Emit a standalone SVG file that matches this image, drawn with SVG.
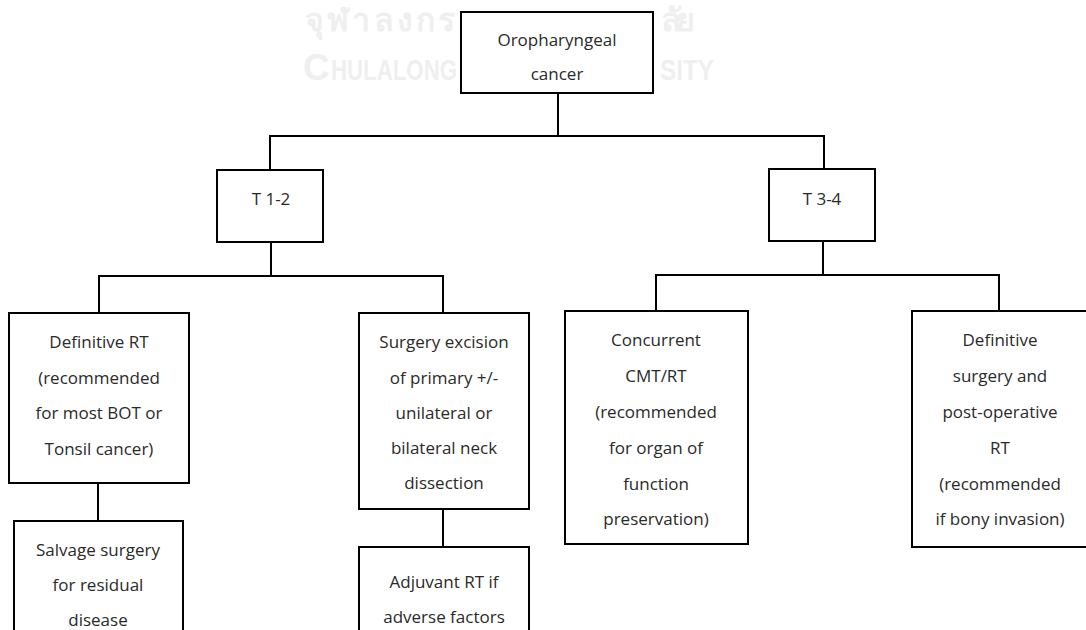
<svg xmlns="http://www.w3.org/2000/svg" width="1086" height="630" viewBox="0 0 1086 630">
<style>
.box{fill:#fff;stroke:#000;stroke-width:2}
.lbl{font-family:"Open Sans","Noto Sans","Liberation Sans",sans-serif;font-size:17px;fill:#2a2a2a;text-anchor:middle}
.wm{font-family:"Liberation Sans","DejaVu Sans",sans-serif;font-weight:bold;fill:#efefef}
.con{fill:none;stroke:#000;stroke-width:2}
</style>
<rect width="1086" height="630" fill="#fff"/>
<g id="watermark">
<text class="wm" x="305" y="31" font-size="32" textLength="150" lengthAdjust="spacing">จุฬาลงกร</text>
<text class="wm" x="656" y="31" font-size="32" textLength="34" lengthAdjust="spacing">ลัย</text>
<text class="wm" x="303" y="80" font-size="37">C</text>
<text class="wm" x="331" y="80" font-size="29" textLength="126" lengthAdjust="spacingAndGlyphs">HULALONG</text>
<text class="wm" x="660" y="80" font-size="29" textLength="54" lengthAdjust="spacingAndGlyphs">SITY</text>
</g>
<g id="connectors">
<path class="con" d="M558 93V136M270 170V136H824V169"/>
<path class="con" d="M271 242V276M99 313V276H443V313"/>
<path class="con" d="M823 241V275M656 311V275H999V311"/>
<path class="con" d="M98 483V521"/>
<path class="con" d="M443 509V547"/>
</g>
<g id="n-root">
<rect class="box" x="461" y="12" width="192" height="81"/>
<text class="lbl" x="557" y="46">Oropharyngeal</text>
<text class="lbl" x="557" y="80">cancer</text>
</g>
<g id="n-t12">
<rect class="box" x="217" y="170" width="106" height="72"/>
<text class="lbl" x="271" y="205">T 1-2</text>
</g>
<g id="n-t34">
<rect class="box" x="769" y="169" width="106" height="72"/>
<text class="lbl" x="822" y="205">T 3-4</text>
</g>
<g id="n-defrt">
<rect class="box" x="9" y="313" width="180" height="170"/>
<text class="lbl" x="99" y="348">Definitive RT</text>
<text class="lbl" x="99" y="384">(recommended</text>
<text class="lbl" x="99" y="419">for most BOT or</text>
<text class="lbl" x="99" y="455">Tonsil cancer)</text>
</g>
<g id="n-salvage">
<rect class="box" x="14" y="521" width="169" height="130"/>
<text class="lbl" x="98" y="556">Salvage surgery</text>
<text class="lbl" x="98" y="591">for residual</text>
<text class="lbl" x="98" y="626">disease</text>
</g>
<g id="n-surgery">
<rect class="box" x="359" y="313" width="170" height="196"/>
<text class="lbl" x="444" y="348">Surgery excision</text>
<text class="lbl" x="444" y="384">of primary +/-</text>
<text class="lbl" x="444" y="419">unilateral or</text>
<text class="lbl" x="444" y="454">bilateral neck</text>
<text class="lbl" x="444" y="489">dissection</text>
</g>
<g id="n-adjuvant">
<rect class="box" x="359" y="547" width="170" height="100"/>
<text class="lbl" x="444" y="588">Adjuvant RT if</text>
<text class="lbl" x="444" y="623">adverse factors</text>
</g>
<g id="n-ccrt">
<rect class="box" x="565" y="311" width="183" height="233"/>
<text class="lbl" x="656" y="346">Concurrent</text>
<text class="lbl" x="656" y="382">CMT/RT</text>
<text class="lbl" x="656" y="418">(recommended</text>
<text class="lbl" x="656" y="454">for organ of</text>
<text class="lbl" x="656" y="490">function</text>
<text class="lbl" x="656" y="525">preservation)</text>
</g>
<g id="n-defsurg">
<rect class="box" x="912" y="311" width="180" height="236"/>
<text class="lbl" x="1000" y="346">Definitive</text>
<text class="lbl" x="1000" y="382">surgery and</text>
<text class="lbl" x="1000" y="418">post-operative</text>
<text class="lbl" x="1000" y="454">RT</text>
<text class="lbl" x="1000" y="490">(recommended</text>
<text class="lbl" x="1000" y="525">if bony invasion)</text>
</g>
</svg>
